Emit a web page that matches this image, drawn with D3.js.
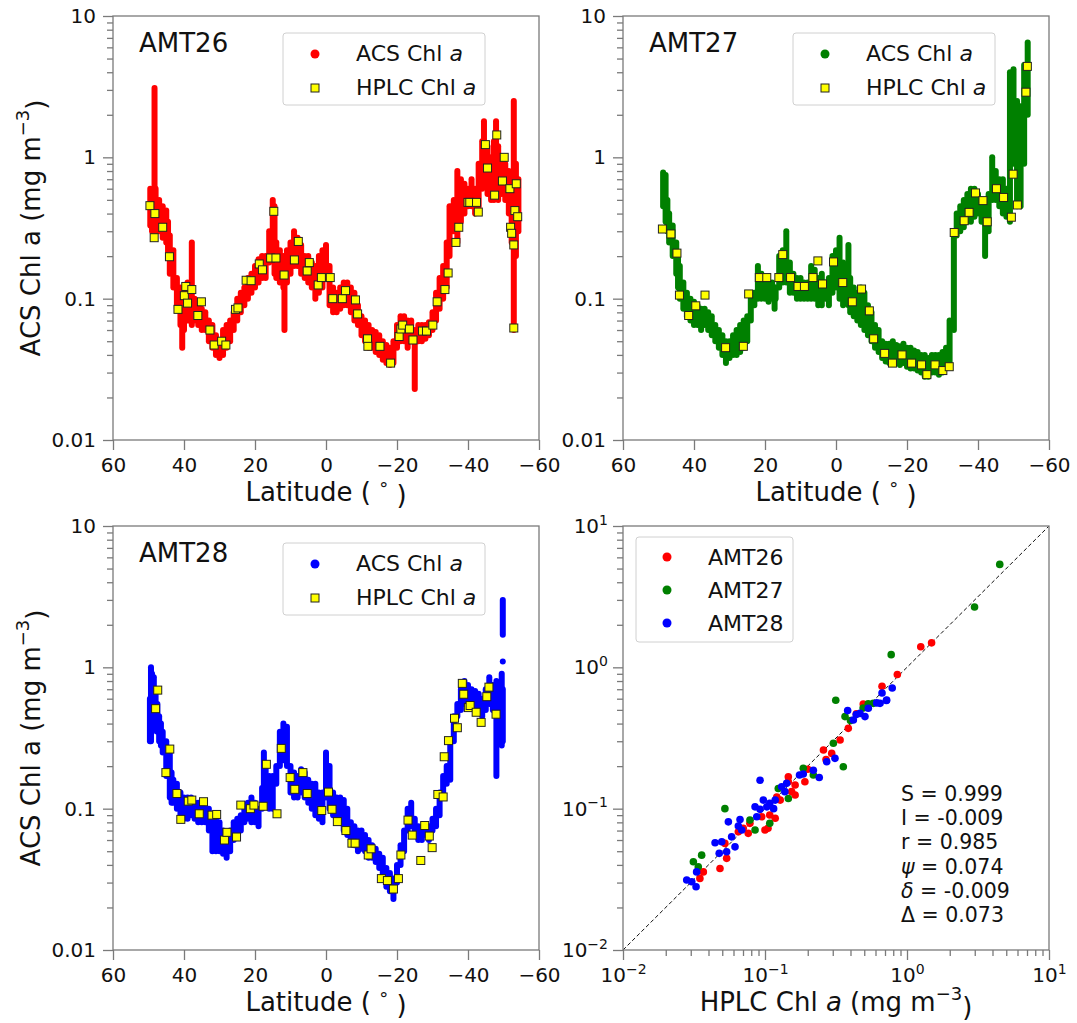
<!DOCTYPE html>
<html>
<head>
  <meta charset="utf-8">
  <title>ACS vs HPLC Chl a</title>
  <script src="https://d3js.org/d3.v7.min.js"></script>
  <style>
  body {
    margin: 0;
    background: white;
  }
  text {
    font-family: 'DejaVu Sans', sans-serif;
    fill: #111;
  }
  </style>
</head>
<body>

  <div id='container'></div>

  <script>

  // ACS Chl a along the cruise track: [latitude, low, high] of the point cloud
  var amt26Acs = [
    [49.5,0.33,0.6],[49,0.3,0.55],[48.3,0.35,3.1],[48,0.3,0.6],[47,0.3,0.5],[46,0.27,0.45],[45,0.25,0.42],
    [44.5,0.2,0.35],[44,0.15,0.28],[43,0.12,0.22],[42,0.085,0.14],[41,0.065,0.12],[40.5,0.045,0.1],[40,0.06,0.11],
    [39,0.07,0.13],[38.5,0.07,0.12],[37.8,0.065,0.25],[37,0.07,0.1],[36,0.065,0.09],[35,0.06,0.085],[34,0.06,0.08],
    [33,0.05,0.07],[32,0.045,0.065],[31,0.04,0.055],[30,0.038,0.05],[29,0.04,0.06],[28,0.045,0.065],[27,0.05,0.07],
    [26,0.06,0.08],[25,0.07,0.1],[24,0.08,0.11],[23,0.09,0.12],[22,0.1,0.14],[21,0.11,0.15],[20,0.12,0.17],
    [19,0.13,0.19],[18,0.14,0.2],[17,0.14,0.2],[16,0.18,0.3],[15,0.2,0.5],[14.5,0.15,0.45],[14,0.14,0.25],
    [13,0.13,0.22],[12,0.12,0.2],[11.7,0.06,0.16],[11,0.13,0.22],[10,0.15,0.25],[9,0.17,0.3],[8,0.17,0.27],
    [7,0.15,0.24],[6,0.14,0.2],[5,0.13,0.2],[4,0.12,0.18],[3,0.1,0.17],[2,0.11,0.2],[1,0.12,0.22],[0,0.14,0.24],
    [-1,0.09,0.17],[-2,0.08,0.12],[-3,0.08,0.11],[-4,0.085,0.12],[-5,0.09,0.13],[-6,0.09,0.13],[-7,0.08,0.12],
    [-8,0.07,0.11],[-9,0.065,0.09],[-10,0.055,0.075],[-11,0.05,0.07],[-12,0.045,0.065],[-13,0.045,0.06],
    [-14,0.042,0.058],[-15,0.04,0.055],[-16,0.037,0.05],[-17,0.035,0.047],[-18,0.034,0.045],[-19,0.035,0.05],
    [-20,0.045,0.065],[-21,0.05,0.075],[-22,0.05,0.075],[-23,0.045,0.07],[-24,0.05,0.07],[-25,0.023,0.06],
    [-26,0.05,0.065],[-27,0.05,0.065],[-28,0.052,0.065],[-29,0.055,0.068],[-30,0.06,0.08],[-31,0.07,0.11],
    [-32,0.085,0.14],[-33,0.1,0.17],[-34,0.12,0.25],[-34.8,0.2,0.45],[-35.5,0.3,0.45],[-36,0.3,0.5],[-37,0.25,0.8],
    [-38,0.35,0.7],[-39,0.4,0.65],[-40,0.45,0.6],[-41,0.45,0.7],[-42,0.4,0.6],[-43,0.45,0.9],[-44,0.6,1.3],
    [-44.5,0.65,1.8],[-45.5,0.55,1.2],[-46.5,0.5,1.0],[-47.3,0.5,1.3],[-47.9,0.55,1.8],[-48.5,0.5,1.2],
    [-49.5,0.55,0.95],[-50.5,0.5,0.9],[-51.5,0.4,0.8],[-52.3,0.25,0.7],[-52.9,0.06,2.5],[-53.5,0.2,0.9],[-54.2,0.3,0.7]
  ]

  var amt27Acs = [
    [48.7,0.45,0.78],[48,0.35,0.75],[47.5,0.3,0.5],[47,0.25,0.4],[46,0.2,0.33],[45,0.15,0.25],[44.5,0.12,0.2],
    [44,0.1,0.17],[43,0.085,0.13],[42,0.075,0.11],[41,0.07,0.1],[40,0.065,0.095],[39,0.065,0.09],[38,0.06,0.085],
    [37,0.065,0.085],[36,0.06,0.08],[35,0.055,0.075],[34,0.05,0.065],[33,0.045,0.06],[32,0.04,0.055],
    [31,0.035,0.05],[30,0.038,0.05],[29,0.04,0.055],[28,0.04,0.06],[27,0.042,0.065],[26,0.045,0.07],
    [25,0.05,0.075],[24,0.07,0.1],[23,0.09,0.11],[22,0.1,0.17],[21,0.1,0.15],[20,0.1,0.14],[19,0.095,0.13],
    [18,0.1,0.13],[17.3,0.085,0.12],[17,0.1,0.12],[16,0.12,0.2],[15,0.13,0.22],[14,0.13,0.3],[13,0.11,0.18],
    [12,0.11,0.15],[11,0.1,0.14],[10,0.1,0.14],[9,0.1,0.13],[8,0.1,0.13],[7,0.1,0.17],[6,0.1,0.16],[5,0.09,0.14],
    [4,0.09,0.15],[3,0.1,0.13],[2,0.09,0.14],[1,0.11,0.2],[0,0.12,0.22],[-1,0.1,0.27],[-2,0.09,0.18],
    [-3.5,0.09,0.24],[-4,0.08,0.14],[-5,0.075,0.12],[-6,0.07,0.11],[-7,0.065,0.12],[-8,0.06,0.11],[-9,0.055,0.09],
    [-10,0.05,0.08],[-11,0.045,0.065],[-12,0.042,0.06],[-13,0.038,0.05],[-14,0.036,0.048],[-15,0.035,0.048],
    [-16,0.035,0.05],[-17,0.035,0.047],[-18,0.034,0.046],[-19,0.035,0.048],[-20,0.033,0.045],[-21,0.032,0.045],
    [-22,0.032,0.043],[-23,0.031,0.042],[-24,0.03,0.04],[-25,0.028,0.04],[-26,0.028,0.038],[-27,0.03,0.04],
    [-28,0.03,0.04],[-29,0.029,0.04],[-30,0.03,0.042],[-31,0.033,0.045],[-32,0.035,0.07],[-33.2,0.06,0.3],
    [-34,0.28,0.4],[-35,0.3,0.45],[-36,0.32,0.5],[-37,0.35,0.55],[-38,0.35,0.6],[-39,0.38,0.6],[-40,0.4,0.55],
    [-41,0.35,0.5],[-42,0.2,0.5],[-43,0.3,0.55],[-44,0.5,1.0],[-45,0.5,0.8],[-46,0.45,0.7],[-47,0.4,0.7],
    [-48,0.38,0.6],[-49,0.35,4.0],[-50,0.9,4.2],[-51,0.45,2.5],[-52,0.45,2.3],[-53,0.9,4.5],[-54,2.0,6.5]
  ]

  var amt28Acs = [
    [49.6,0.3,0.6],[49.3,0.3,1.0],[49,0.35,0.9],[48.5,0.4,0.85],[48,0.4,0.7],[47.5,0.35,0.55],[47,0.3,0.45],
    [46.5,0.28,0.4],[46,0.25,0.35],[45,0.17,0.3],[44,0.12,0.25],[43.5,0.11,0.18],[43,0.11,0.16],[42,0.1,0.15],
    [41,0.09,0.13],[40,0.085,0.12],[39,0.085,0.12],[38,0.09,0.12],[37,0.085,0.11],[36,0.08,0.11],[35,0.08,0.11],
    [34,0.08,0.1],[33,0.07,0.1],[32,0.05,0.09],[31,0.05,0.085],[30,0.05,0.08],[29,0.048,0.07],[28,0.045,0.065],
    [27,0.05,0.07],[26,0.06,0.08],[25,0.065,0.085],[24,0.07,0.09],[23,0.08,0.1],[22,0.085,0.11],[21,0.08,0.12],
    [20,0.08,0.11],[19,0.075,0.1],[18,0.1,0.14],[17.5,0.11,0.25],[17,0.12,0.2],[16,0.1,0.17],[15,0.1,0.17],
    [14,0.15,0.2],[13,0.2,0.35],[12,0.22,0.4],[11,0.2,0.38],[10,0.13,0.2],[9,0.12,0.18],[8,0.12,0.17],
    [7,0.13,0.19],[6,0.12,0.18],[5,0.11,0.16],[4,0.1,0.15],[3,0.09,0.15],[2,0.085,0.13],[1,0.08,0.13],
    [0,0.12,0.25],[-1,0.1,0.2],[-2,0.09,0.13],[-3,0.09,0.12],[-4,0.08,0.12],[-5,0.07,0.115],[-6,0.065,0.1],
    [-7,0.06,0.08],[-8,0.055,0.075],[-9,0.05,0.07],[-10,0.052,0.07],[-11,0.05,0.065],[-12,0.045,0.06],
    [-13,0.045,0.055],[-14,0.042,0.052],[-15,0.038,0.048],[-16,0.033,0.045],[-17,0.028,0.038],[-18,0.026,0.035],
    [-19,0.023,0.032],[-20,0.03,0.04],[-21,0.04,0.055],[-22,0.05,0.07],[-23,0.07,0.1],[-24,0.075,0.11],
    [-25,0.065,0.085],[-26,0.06,0.075],[-27,0.06,0.07],[-28,0.065,0.075],[-29,0.06,0.075],[-30,0.07,0.085],
    [-31,0.075,0.1],[-32,0.09,0.13],[-33,0.12,0.17],[-34,0.15,0.2],[-35,0.16,0.3],[-36,0.3,0.45],[-37,0.45,0.55],
    [-38,0.5,0.7],[-39,0.55,0.8],[-40,0.55,0.75],[-41,0.55,0.7],[-42,0.5,0.68],[-43,0.48,0.65],[-44,0.45,0.6],
    [-45,0.5,0.7],[-46,0.55,0.85],[-47,0.5,0.75],[-48,0.17,0.8],[-48.5,0.3,0.75],[-49,0.3,0.6],[-49.5,0.28,0.9],
    [-49.8,0.3,0.7],[-49.8,1.1,1.1],[-49.8,1.7,3.0]
  ]

  // HPLC Chl a samples: [latitude, value]
  var amt26Hplc = [
    [49.6,0.455],[48.2,0.40],[48.4,0.27],[46.0,0.32],[44.1,0.198],[41.7,0.084],[39.9,0.105],[39.5,0.122],
    [39.0,0.093],[37.8,0.116],[36.1,0.076],[35.1,0.095],[32.7,0.060],[31.5,0.047],[29.4,0.050],[28.2,0.047],
    [25.5,0.084],[24.8,0.086],[22.5,0.135],[21.1,0.134],[18.8,0.176],[17.9,0.160],[15.6,0.194],[14.7,0.415],
    [14.1,0.194],[11.8,0.147],[8.9,0.188],[7.8,0.254],[5.3,0.157],[4.7,0.18],[2.2,0.125],[1.3,0.141],
    [-1.2,0.141],[-1.9,0.10],[-4.6,0.10],[-5.5,0.114],[-8.3,0.098],[-8.9,0.078],[-11.7,0.052],[-11.8,0.046],
    [-15.2,0.046],[-18.2,0.035],[-20.6,0.054],[-21.1,0.061],[-21.6,0.065],[-23.5,0.061],[-24.5,0.051],
    [-27.2,0.059],[-28.3,0.059],[-30.1,0.065],[-31.3,0.095],[-33.5,0.116],[-34.4,0.152],[-36.6,0.25],
    [-37.4,0.32],[-40.0,0.48],[-40.5,0.48],[-42.4,0.48],[-42.9,0.41],[-44.9,1.23],[-45.5,0.84],[-47.5,0.54],
    [-48.1,1.44],[-50.2,1.0],[-49.7,0.68],[-51.8,0.60],[-53.6,0.65],[-52.0,0.32],[-52.3,0.29],[-52.9,0.24],
    [-53.2,0.42],[-54.0,0.38],[-52.9,0.062]
  ]

  var amt27Hplc = [
    [48.9,0.311],[46.5,0.287],[44.8,0.21],[44.1,0.106],[41.5,0.076],[39.5,0.089],[36.9,0.106],[31.1,0.045],
    [26.1,0.046],[24.6,0.108],[21.6,0.141],[19.5,0.141],[16.1,0.141],[15.0,0.205],[12.8,0.141],[10.7,0.122],
    [8.9,0.122],[6.5,0.141],[5.1,0.185],[3.8,0.127],[0.7,0.182],[-1.9,0.13],[-4.6,0.095],[-7.2,0.117],
    [-9.4,0.082],[-10.6,0.052],[-13.7,0.041],[-15.9,0.035],[-18.6,0.040],[-21.3,0.035],[-24.1,0.034],
    [-25.6,0.029],[-27.9,0.034],[-30.1,0.031],[-31.9,0.033],[-33.3,0.294],[-36.1,0.356],[-37.5,0.408],
    [-39.3,0.56],[-41.4,0.494],[-42.6,0.35],[-45.2,0.60],[-47.2,0.52],[-49.4,0.377],[-49.9,0.76],[-51.1,0.46],
    [-53.5,2.89],[-53.9,4.4]
  ]

  var amt28Hplc = [
    [47.4,0.69],[48.0,0.51],[45.1,0.18],[44.0,0.264],[42.0,0.128],[40.9,0.084],[38.8,0.113],[37.8,0.115],
    [35.7,0.092],[34.5,0.112],[32.1,0.09],[30.8,0.091],[28.6,0.060],[27.9,0.068],[25.2,0.063],[24.0,0.106],
    [21.3,0.100],[20.3,0.106],[17.7,0.104],[16.8,0.206],[13.8,0.092],[12.6,0.267],[10.1,0.166],[8.8,0.137],
    [6.5,0.18],[5.3,0.128],[1.2,0.097],[-0.7,0.131],[-1.7,0.099],[-3.2,0.081],[-5.6,0.070],[-7.3,0.057],
    [-8.2,0.057],[-11.9,0.047],[-12.7,0.052],[-15.6,0.032],[-17.3,0.031],[-19.0,0.027],[-20.4,0.032],
    [-21.1,0.047],[-23.1,0.083],[-24.3,0.065],[-26.7,0.043],[-27.8,0.076],[-29.1,0.064],[-29.9,0.053],
    [-31.5,0.126],[-33.0,0.121],[-33.3,0.233],[-34.5,0.303],[-36.2,0.436],[-37.0,0.374],[-38.4,0.77],
    [-38.8,0.645],[-40.1,0.519],[-40.6,0.537],[-42.3,0.481],[-43.7,0.408],[-45.3,0.62],[-45.9,0.724],[-47.9,0.466]
  ]

  // matchups: [HPLC, ACS]
  var match26 = [
    [1.25,1.40],[1.49,1.49],[0.855,0.89],[0.667,0.734],[0.492,0.55],[0.386,0.37],[0.338,0.306],[0.295,0.246],
    [0.269,0.223],[0.258,0.26],[0.191,0.155],[0.163,0.147],[0.163,0.125],[0.154,0.132],[0.146,0.155],
    [0.146,0.168],[0.128,0.115],[0.121,0.121],[0.118,0.0855],[0.108,0.0902],[0.105,0.0726],[0.1,0.0706],
    [0.0948,0.0877],[0.0783,0.0787],[0.0703,0.0726],[0.0762,0.0669],[0.0649,0.0687],[0.0522,0.0568],
    [0.0537,0.0445],[0.0482,0.0377],[0.0368,0.0357],[0.0348,0.0321],[0.44,0.47],[0.2,0.19]
  ]
  var match27 = [
    [4.5,5.35],[2.99,2.67],[0.774,1.23],[0.315,0.585],[0.579,0.556],[0.533,0.551],[0.491,0.515],[0.366,0.448],
    [0.356,0.198],[0.303,0.29],[0.186,0.193],[0.219,0.173],[0.146,0.118],[0.124,0.139],[0.108,0.0787],
    [0.0851,0.0706],[0.0783,0.083],[0.0522,0.1],[0.0339,0.0388],[0.0358,0.0469],[0.0313,0.0421],[0.4,0.42]
  ]
  var match28 = [
    [0.787,0.714],[0.716,0.583],[0.667,0.659],[0.612,0.56],[0.719,0.587],[0.646,0.556],[0.534,0.513],
    [0.506,0.448],[0.467,0.472],[0.419,0.424],[0.439,0.463],[0.382,0.494],[0.311,0.227],[0.272,0.215],
    [0.241,0.166],[0.219,0.187],[0.186,0.176],[0.175,0.173],[0.142,0.151],[0.138,0.132],[0.131,0.143],
    [0.118,0.115],[0.115,0.1],[0.108,0.109],[0.103,0.103],[0.0973,0.115],[0.0923,0.159],[0.0923,0.0989],
    [0.0851,0.103],[0.0875,0.0877],[0.0686,0.0706],[0.0649,0.0753],[0.0667,0.0839],[0.0552,0.0807],
    [0.0615,0.0537],[0.0582,0.0632],[0.0537,0.0496],[0.0476,0.0483],[0.0496,0.0583],[0.0445,0.0574],
    [0.033,0.0357],[0.0327,0.028],[0.0305,0.0304],[0.0281,0.0313]
  ]

  var cruises = ['AMT26', 'AMT27', 'AMT28']
  var colors = ['#ff0000', '#008000', '#0000ff']
  var latTicks = [60, 40, 20, 0, -20, -40, -60]
  var chlTicks = [10, 1, 0.1, 0.01]
  var chlTickLabels = ['10', '1', '0.1', '0.01']
  var powTicks = [0.01, 0.1, 1, 10]
  var powTickExps = ['\u22122', '\u22121', '0', '1']
  var stats = [['S', ' = 0.999', false], ['I', ' = -0.009', false], ['r', ' = 0.985', false],
               ['\u03c8', ' = 0.074', true], ['\u03b4', ' = -0.009', true], ['\u0394', ' = 0.073', false]]


  const width = 1077
  const height = 1023
  const pw = 426
  const ph = 424
  const axisColor = '#7a7a7a'

  var boxes = [{x: 113, y: 16}, {x: 623, y: 16}, {x: 113, y: 526}, {x: 623, y: 526}]

  var svg = d3.select('#container')
    .append('svg')
    .attr('width', width)
    .attr('height', height)

  function isMinor(d) {
    var l = Math.log10(d)
    return Math.abs(l - Math.round(l)) > 1e-6
  }

  function styleAxis(g) {
    g.select('.domain').remove()
    g.selectAll('.tick line').style('stroke', axisColor).style('stroke-width', 1.3)
    g.selectAll('.tick text').style('font-size', '20px').style('fill', '#111')
  }

  function supLabel(sel, exp) {
    sel.text('')
    sel.append('tspan').text('10')
    sel.append('tspan').attr('dy', '-0.6em').style('font-size', '14px').text(exp)
  }

  function frame(g) {
    g.append('rect')
      .attr('width', pw)
      .attr('height', ph)
      .style('fill', 'none')
      .style('stroke', axisColor)
      .style('stroke-width', 1.3)
  }

  function chlLabel(t, prefix, italicA) {
    t.append('tspan').text(prefix)
    t.append('tspan').style('font-style', italicA ? 'italic' : 'normal').text('a')
    t.append('tspan').text(' (mg m')
    t.append('tspan').attr('dy', '-0.6em').style('font-size', '18px').text('\u22123')
    t.append('tspan').attr('dy', '0.6em').text(')')
  }

  function legendBox(g, x0, y0, w, h) {
    g.append('rect')
      .attr('x', x0).attr('y', y0)
      .attr('width', w).attr('height', h)
      .attr('rx', 3)
      .style('fill', 'white')
      .style('stroke', '#d0d0d0')
      .style('stroke-width', 1)
  }

  function drawLatPanel(i) {
    var b = boxes[i]
    var g = svg.append('g').attr('transform', 'translate(' + b.x + ',' + b.y + ')')

    var x = d3.scaleLinear().domain([60, -60]).range([0, pw])
    var y = d3.scaleLog().domain([0.01, 10]).range([ph, 0])

    var acs = [amt26Acs, amt27Acs, amt28Acs][i]
    var hplc = [amt26Hplc, amt27Hplc, amt28Hplc][i]

    g.append('g').call(d3.axisLeft(y).tickValues(y.ticks().filter(isMinor)).tickFormat('').tickSize(6)).call(styleAxis)
    g.append('g').call(d3.axisLeft(y).tickValues(chlTicks).tickFormat((d, k) => chlTickLabels[k]).tickSize(10).tickPadding(7)).call(styleAxis)
    g.append('g').attr('transform', 'translate(0,' + ph + ')')
      .call(d3.axisBottom(x).tickValues(latTicks).tickFormat(d => d < 0 ? '\u2212' + (-d) : d).tickSize(10).tickPadding(8))
      .call(styleAxis)

    // ACS cloud
    g.append('g').selectAll('line')
      .data(acs)
      .enter()
      .append('line')
      .attr('x1', d => x(d[0]))
      .attr('x2', d => x(d[0]))
      .attr('y1', d => y(d[2]))
      .attr('y2', d => y(d[1]))
      .style('stroke', colors[i])
      .style('stroke-width', 6)
      .style('stroke-linecap', 'round')

    g.append('g').selectAll('rect')
      .data(hplc)
      .enter()
      .append('rect')
      .attr('x', d => x(d[0]) - 4)
      .attr('y', d => y(d[1]) - 4)
      .attr('width', 8)
      .attr('height', 8)
      .style('fill', '#ffff00')
      .style('stroke', '#222')
      .style('stroke-width', 1)

    frame(g)

    g.append('text')
      .attr('x', 26)
      .attr('y', 36)
      .style('font-size', '26px')
      .text(cruises[i])

    // legend
    legendBox(g, 170, 17, 202, 72)
    g.append('circle').attr('cx', 202).attr('cy', 38).attr('r', 4.5).style('fill', colors[i])
    g.append('rect').attr('x', 198).attr('y', 68).attr('width', 8).attr('height', 8)
      .style('fill', '#ffff00').style('stroke', '#222').style('stroke-width', 1)
    var l1 = g.append('text').attr('x', 243).attr('y', 45).style('font-size', '22px')
    l1.append('tspan').text('ACS Chl ')
    l1.append('tspan').style('font-style', 'italic').text('a')
    var l2 = g.append('text').attr('x', 243).attr('y', 79).style('font-size', '22px')
    l2.append('tspan').text('HPLC Chl ')
    l2.append('tspan').style('font-style', 'italic').text('a')

    var xl = g.append('text')
      .attr('x', pw / 2)
      .attr('y', ph + 61)
      .attr('text-anchor', 'middle')
      .style('font-size', '26px')
    xl.append('tspan').text('Latitude ( ')
    xl.append('tspan').attr('dy', '-0.35em').style('font-size', '18px').text('\u00b0')
    xl.append('tspan').attr('dy', '0.35em').text(' )')

    if (i != 1) {
      var yl = svg.append('text')
        .attr('transform', 'translate(40,' + (b.y + ph / 2) + ') rotate(-90)')
        .attr('text-anchor', 'middle')
        .style('font-size', '26px')
      chlLabel(yl, 'ACS Chl ', false)
    }
  }

  function drawScatterPanel() {
    var b = boxes[3]
    var g = svg.append('g').attr('transform', 'translate(' + b.x + ',' + b.y + ')')

    var x = d3.scaleLog().domain([0.01, 10]).range([0, pw])
    var y = d3.scaleLog().domain([0.01, 10]).range([ph, 0])

    g.append('g').call(d3.axisLeft(y).tickValues(y.ticks().filter(isMinor)).tickFormat('').tickSize(6)).call(styleAxis)
    g.append('g').call(d3.axisLeft(y).tickValues(powTicks).tickFormat('').tickSize(10).tickPadding(5))
      .call(styleAxis)
      .selectAll('.tick text').each(function(d, k) { supLabel(d3.select(this), powTickExps[k]) })
    g.append('g').attr('transform', 'translate(0,' + ph + ')')
      .call(d3.axisBottom(x).tickValues(x.ticks().filter(isMinor)).tickFormat('').tickSize(6)).call(styleAxis)
    g.append('g').attr('transform', 'translate(0,' + ph + ')')
      .call(d3.axisBottom(x).tickValues(powTicks).tickFormat('').tickSize(10).tickPadding(8))
      .call(styleAxis)
      .selectAll('.tick text').each(function(d, k) { supLabel(d3.select(this), powTickExps[k]) })

    // 1:1 line
    g.append('line')
      .attr('x1', x(0.01)).attr('y1', y(0.01))
      .attr('x2', x(10)).attr('y2', y(10))
      .style('stroke', '#111')
      .style('stroke-width', 1)
      .style('stroke-dasharray', '4,2.5')

    var sets = [match26, match27, match28]
    sets.forEach(function(set, k) {
      g.append('g').selectAll('circle')
        .data(set)
        .enter()
        .append('circle')
        .attr('cx', d => x(d[0]))
        .attr('cy', d => y(d[1]))
        .attr('r', 3.8)
        .style('fill', colors[k])
    })

    frame(g)

    legendBox(g, 13, 11, 157, 105)
    cruises.forEach(function(c, k) {
      g.append('circle').attr('cx', 44).attr('cy', 31 + k * 33).attr('r', 4.5).style('fill', colors[k])
      g.append('text').attr('x', 85).attr('y', 39 + k * 33).style('font-size', '22px').text(c)
    })

    var st = g.append('g')
    stats.forEach(function(s, k) {
      var t = st.append('text')
        .attr('x', 278)
        .attr('y', 275 + k * 24.2)
        .style('font-size', '20.5px')
      t.append('tspan').style('font-style', s[2] ? 'italic' : 'normal').text(s[0])
      t.append('tspan').text(s[1])
    })

    var xl = g.append('text')
      .attr('x', pw / 2)
      .attr('y', ph + 61)
      .attr('text-anchor', 'middle')
      .style('font-size', '26px')
    chlLabel(xl, 'HPLC Chl ', true)
  }

  drawLatPanel(0)
  drawLatPanel(1)
  drawLatPanel(2)
  drawScatterPanel()

  </script>
</body>
</html>
